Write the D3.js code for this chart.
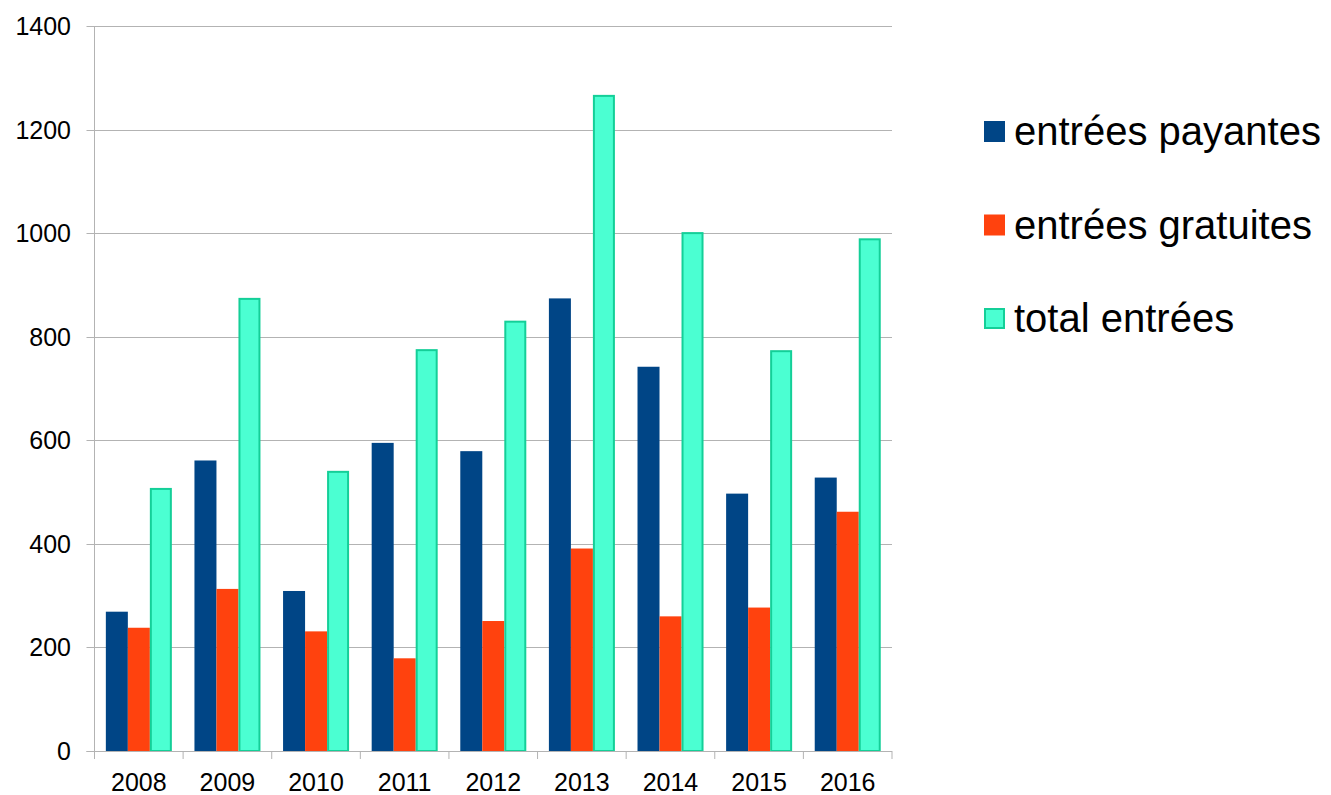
<!DOCTYPE html>
<html>
<head>
<meta charset="utf-8">
<script src="https://cdn.jsdelivr.net/npm/d3@7"></script>
<style>
  html, body { margin: 0; padding: 0; background: #fff; }
  svg { display: block; font-family: "Liberation Sans", Arial, sans-serif; }
</style>
</head>
<body>
<svg id="chart" width="1331" height="795"></svg>
<script>
const years = ["2008", "2009", "2010", "2011", "2012", "2013", "2014", "2015", "2016"];
const seriesNames = ["entrées payantes", "entrées gratuites", "total entrées"];
const payantes = [269, 561, 309, 595, 579, 874, 742, 497, 528];
const gratuites = [238, 313, 231, 179, 251, 391, 260, 277, 462];
const total = [508, 875, 541, 776, 831, 1267, 1002, 774, 990];
const yTicks = [0, 200, 400, 600, 800, 1000, 1200, 1400];
const fills = ["#004586", "#ff420e", "#4bffd2"];
const strokes = ["none", "none", "#14cf98"];

const seriesValues = [payantes, gratuites, total];
const svg = d3.select("#chart");

const pLeft = 94.5, pRight = 892, pTop = 26, pBottom = 751;

const y = d3.scaleLinear().domain([0, 1400]).range([pBottom, pTop]);
const x0 = d3.scaleBand().domain(years).range([pLeft, pRight]).padding(0);
const bw = x0.bandwidth();
const x1 = d3.scaleBand().domain(d3.range(3)).range([bw * 0.128, bw * 0.128 + bw * 0.745]).padding(0);

// gridlines
svg.append("g")
  .selectAll("line")
  .data(yTicks)
  .join("line")
  .attr("x1", pLeft - 8).attr("x2", pRight)
  .attr("y1", d => Math.round(y(d)) + 0.5).attr("y2", d => Math.round(y(d)) + 0.5)
  .attr("stroke", "#b3b3b3").attr("stroke-width", 1);

// y axis labels
svg.append("g")
  .selectAll("text")
  .data(yTicks)
  .join("text")
  .attr("x", 71).attr("y", d => y(d))
  .attr("text-anchor", "end").attr("dominant-baseline", "central")
  .attr("font-size", 25).attr("fill", "#000")
  .text(d => d);

// y axis line
svg.append("line")
  .attr("x1", pLeft).attr("x2", pLeft).attr("y1", pTop).attr("y2", pBottom)
  .attr("stroke", "#b3b3b3");

// bars
const groups = svg.append("g").selectAll("g")
  .data(years)
  .join("g")
  .attr("transform", d => `translate(${x0(d)},0)`);

groups.selectAll("rect")
  .data((d, i) => seriesValues.map((s, k) => ({ k, v: s[i] })))
  .join("rect")
  .attr("x", d => x1(d.k) + (d.k === 2 ? 1 : 0))
  .attr("width", d => x1.bandwidth() - (d.k === 2 ? 2 : 0))
  .attr("y", d => y(d.v) + (d.k === 2 ? 1 : 0))
  .attr("height", d => pBottom - y(d.v) - (d.k === 2 ? 1 : 0))
  .attr("fill", d => fills[d.k])
  .attr("stroke", d => strokes[d.k])
  .attr("stroke-width", d => d.k === 2 ? 2 : 0);

// x axis
svg.append("line")
  .attr("x1", pLeft - 8).attr("x2", pRight).attr("y1", pBottom + 0.5).attr("y2", pBottom + 0.5)
  .attr("stroke", "#b3b3b3");

const boundaries = years.map(d => x0(d)).concat([pRight]);
svg.append("g").selectAll("line")
  .data(boundaries)
  .join("line")
  .attr("x1", d => d).attr("x2", d => d)
  .attr("y1", pBottom).attr("y2", pBottom + 8)
  .attr("stroke", "#b3b3b3");

svg.append("g").selectAll("text")
  .data(years)
  .join("text")
  .attr("x", d => x0(d) + bw / 2)
  .attr("y", 791)
  .attr("text-anchor", "middle")
  .attr("font-size", 25).attr("fill", "#000")
  .text(d => d);

// legend
const legend = svg.append("g").selectAll("g")
  .data(seriesNames)
  .join("g")
  .attr("transform", (d, i) => `translate(984, ${121 + i * 93.5})`);

legend.append("rect")
  .attr("x", (d, i) => i === 2 ? 1 : 0)
  .attr("y", (d, i) => i === 2 ? 1 : 0)
  .attr("width", (d, i) => i === 2 ? 19 : 21)
  .attr("height", (d, i) => i === 2 ? 19 : 21)
  .attr("fill", (d, i) => fills[i])
  .attr("stroke", (d, i) => strokes[i])
  .attr("stroke-width", (d, i) => i === 2 ? 2 : 0);

legend.append("text")
  .attr("x", 30)
  .attr("y", 24)
  .attr("font-size", 40)
  .attr("fill", "#000")
  .text(d => d);
</script>
</body>
</html>
